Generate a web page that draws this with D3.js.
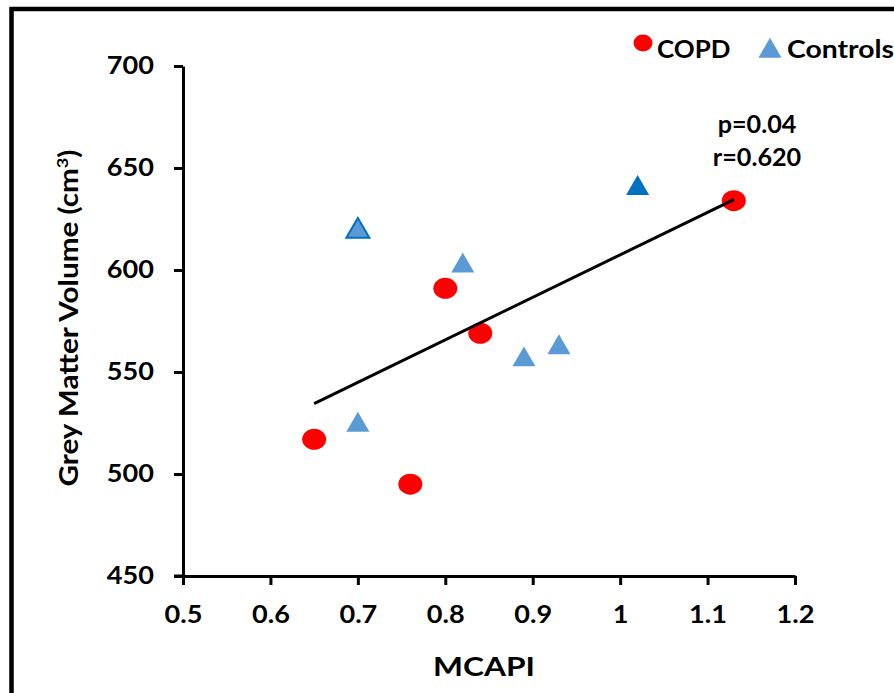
<!DOCTYPE html>
<html>
<head>
<meta charset="utf-8">
<script src="https://cdn.jsdelivr.net/npm/d3@7"></script>
<style>
  body { margin: 0; background: #fff; }
  text { font-family: Lato, "Open Sans", sans-serif; font-weight: bold; fill: #000; }
</style>
</head>
<body>
<svg width="894" height="693"></svg>
<script>
var svg = d3.select("svg"),
    width = +svg.attr("width"),
    height = +svg.attr("height");

// data
var copdX = [0.65, 0.76, 0.80, 0.84, 1.13];
var copdY = [517, 495, 591, 569, 634];
var ctrlX = [0.70, 0.82, 1.02, 0.89, 0.93, 0.70];
var ctrlY = [620, 603, 641, 557, 563, 525];
var xTicks = [0.5, 0.6, 0.7, 0.8, 0.9, 1, 1.1, 1.2];
var yTicks = [450, 500, 550, 600, 650, 700];
var stats = ["p=0.04", "r=0.620"];

var x = d3.scaleLinear().domain([0.5, 1.2]).range([183, 795]);
var y = d3.scaleLinear().domain([450, 700]).range([576, 66]);

// the original font is a wide-ish Calibri, Lato is stretched a bit to match
var sx = 1.13;

// outer frame
svg.append("rect")
  .attr("x", 11.5).attr("y", 9)
  .attr("width", 920).attr("height", 720)
  .attr("fill", "none").attr("stroke", "#000").attr("stroke-width", 4.5);

// axes
var xAxis = svg.append("g")
  .attr("transform", "translate(0," + y(450) + ")")
  .call(d3.axisBottom(x).tickValues(xTicks).tickSize(9).tickSizeOuter(0)
    .tickFormat(function(d) { return d3.format("")(+d.toFixed(1)); }));
var yAxis = svg.append("g")
  .attr("transform", "translate(" + x(0.5) + ",0)")
  .call(d3.axisLeft(y).tickValues(yTicks).tickSize(9).tickSizeOuter(0));

[xAxis, yAxis].forEach(function(a) {
  a.select(".domain").attr("stroke", "#000").attr("stroke-width", 3);
  a.selectAll(".tick line").attr("stroke", "#000").attr("stroke-width", 3);
  a.selectAll(".tick text").style("font-size", "24px").style("font-family", "Lato, sans-serif")
    .style("font-weight", "bold").attr("fill", "#000")
    .attr("transform", "scale(" + sx + ",1)");
});
xAxis.selectAll(".tick text").attr("y", 30).attr("x", 0);
yAxis.selectAll(".tick text").attr("x", -29 / sx);
// x axis line runs a little left of the y axis (like the original)
xAxis.append("line").attr("x1", x(0.5) - 9).attr("x2", x(0.5))
  .attr("stroke", "#000").attr("stroke-width", 3);

// axis titles
svg.append("text")
  .attr("transform", "translate(484,676) scale(1.22,1)")
  .attr("text-anchor", "middle")
  .style("font-size", "26px")
  .text("MCAPI");

var yt = svg.append("text")
  .attr("transform", "translate(78,318) rotate(-90) scale(1.14,1)")
  .attr("text-anchor", "middle")
  .style("font-size", "26px");
yt.append("tspan").text("Grey Matter Volume (cm");
yt.append("tspan").attr("dy", -10).style("font-size", "16px").text("3");
yt.append("tspan").attr("dy", 10).text(")");

// regression line over all subjects
var allX = copdX.concat(ctrlX), allY = copdY.concat(ctrlY);
var mx = d3.mean(allX), my = d3.mean(allY);
var sxy = d3.sum(allX, function(v, i) { return (v - mx) * (allY[i] - my); });
var sxx = d3.sum(allX, function(v) { return (v - mx) * (v - mx); });
var slope = sxy / sxx, icpt = my - slope * mx;
var x0 = d3.min(copdX), x1 = d3.max(copdX);

// markers
var tri = d3.symbol().type(d3.symbolTriangle).size(230);

svg.append("g").selectAll("path")
  .data(ctrlX.map(function(v, i) { return [v, ctrlY[i]]; }))
  .enter().append("path")
  .attr("d", tri)
  .attr("transform", function(d) { return "translate(" + x(d[0]) + "," + (y(d[1]) + 2) + ")"; })
  .attr("fill", function(d) { return d[1] > 630 ? "#0070c0" : "#5b9bd5"; })
  .attr("stroke", function(d) { return d[1] === 620 ? "#0070c0" : "none"; })
  .attr("stroke-width", 2);

svg.append("g").selectAll("ellipse")
  .data(copdX.map(function(v, i) { return [v, copdY[i]]; }))
  .enter().append("ellipse")
  .attr("cx", function(d) { return x(d[0]); })
  .attr("cy", function(d) { return y(d[1]); })
  .attr("rx", 12).attr("ry", 10.5)
  .attr("fill", "#ff0000");

svg.append("line")
  .attr("x1", x(x0)).attr("y1", y(icpt + slope * x0))
  .attr("x2", x(x1)).attr("y2", y(icpt + slope * x1))
  .attr("stroke", "#000").attr("stroke-width", 3);

// stats
svg.append("g").selectAll("text")
  .data(stats).enter().append("text")
  .attr("transform", function(d, i) { return "translate(757," + (133 + i * 33) + ") scale(1.05,1)"; })
  .attr("text-anchor", "middle")
  .style("font-size", "24px")
  .text(function(d) { return d; });

// legend
var lg = svg.append("g");
lg.append("ellipse").attr("cx", 643).attr("cy", 43).attr("rx", 9.5).attr("ry", 8.5).attr("fill", "#ff0000");
lg.append("text").attr("transform", "translate(657,58) scale(1.08,1)").style("font-size", "24px").text("COPD");
lg.append("path").attr("d", tri).attr("transform", "translate(770,51)").attr("fill", "#5b9bd5");
lg.append("text").attr("transform", "translate(787,58) scale(1.18,1)").style("font-size", "24px").text("Controls");
</script>
</body>
</html>
